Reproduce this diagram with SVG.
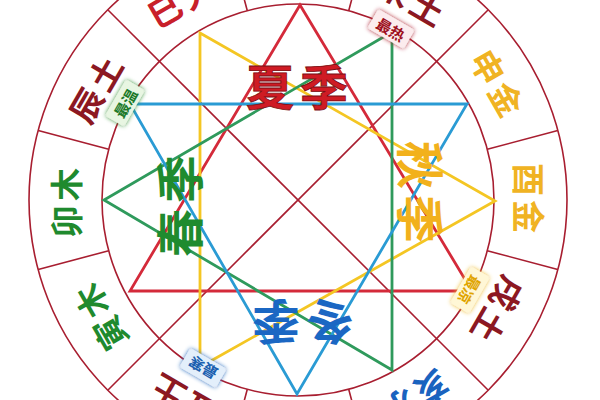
<svg xmlns="http://www.w3.org/2000/svg" width="600" height="400" viewBox="0 0 600 400">
<style>
.ring{fill:none;stroke:#a81e30;stroke-width:1.6}
.div{stroke:#a81e30;stroke-width:1.6}
.tri{fill:none;stroke-width:2.8;stroke-linejoin:miter}
.br{font-family:"Noto Sans CJK SC","Noto Sans",sans-serif;font-weight:700;font-size:33px;text-anchor:middle;dominant-baseline:central;letter-spacing:4px}
.se{font-family:"Noto Sans CJK SC","Noto Sans",sans-serif;font-weight:700;font-size:48px;text-anchor:middle;dominant-baseline:central;letter-spacing:6px}
.bd{font-family:"Noto Sans CJK SC","Noto Sans",sans-serif;font-weight:700;font-size:15px;text-anchor:middle;dominant-baseline:central}
.earth{fill:#8c1822}
.fire{fill:#c8202a}
.metal{fill:#f0b323}
.water{fill:#1a63bf}
.wood{fill:#1f8a2e}
</style>
<defs>
<filter id="glowG" x="-50%" y="-50%" width="200%" height="200%"><feDropShadow dx="0" dy="0" stdDeviation="2" flood-color="#3c9a3e"/></filter>
<filter id="glowR" x="-50%" y="-50%" width="200%" height="200%"><feDropShadow dx="0" dy="0" stdDeviation="2" flood-color="#b02030"/></filter>
<filter id="glowY" x="-50%" y="-50%" width="200%" height="200%"><feDropShadow dx="0" dy="0" stdDeviation="2" flood-color="#f0c030"/></filter>
<filter id="glowB" x="-50%" y="-50%" width="200%" height="200%"><feDropShadow dx="0" dy="0" stdDeviation="2" flood-color="#2a70c0"/></filter>
</defs>
<rect width="600" height="400" fill="#ffffff"/>
<g id="wheel">
<circle class="ring" cx="298" cy="200" r="269"/>
<circle class="ring" cx="298" cy="200" r="196"/>
<line class="div" x1="108" y1="10" x2="488" y2="390"/>
<line class="div" x1="488" y1="10" x2="108" y2="390"/>
<line class="div" x1="487.3" y1="149.3" x2="557.8" y2="130.4"/>
<line class="div" x1="348.7" y1="10.7" x2="367.6" y2="-59.8"/>
<line class="div" x1="247.3" y1="10.7" x2="228.4" y2="-59.8"/>
<line class="div" x1="108.7" y1="149.3" x2="38.2" y2="130.4"/>
<line class="div" x1="108.7" y1="250.7" x2="38.2" y2="269.6"/>
<line class="div" x1="247.3" y1="389.3" x2="228.4" y2="459.8"/>
<line class="div" x1="348.7" y1="389.3" x2="367.6" y2="459.8"/>
<line class="div" x1="487.3" y1="250.7" x2="557.8" y2="269.6"/>
</g>
<g id="connectors">
<polygon class="tri" stroke="#d42a3a" points="300,5 130,291 472,291"/>
<polygon class="tri" stroke="#f4c623" points="200,33 495,201 200,367"/>
<polygon class="tri" stroke="#2f9a5c" points="392,32 104,200 392,370"/>
<polygon class="tri" stroke="#2a9bd4" points="130,104 467,104 297,394"/>
</g>
<g id="branch-you"><text class="br metal" transform="translate(530,200) rotate(90)">酉金</text></g>
<g id="branch-shen"><text class="br metal" transform="translate(499,84) rotate(60)">申金</text></g>
<g id="branch-wei"><text class="br earth" transform="translate(414,-1) rotate(30)">未土</text></g>
<g id="branch-si"><text class="br fire" transform="translate(182,-1) rotate(-30)">巳火</text></g>
<g id="branch-chen"><text class="br earth" transform="translate(96,87) rotate(-60)">辰土</text></g>
<g id="branch-mao"><text class="br wood" transform="translate(65,201) rotate(-90)">卯木</text></g>
<g id="branch-yin"><text class="br wood" transform="translate(99,316) rotate(-120)">寅木</text></g>
<g id="branch-chou"><text class="br earth" transform="translate(182,401) rotate(-150)">丑土</text></g>
<g id="branch-hai"><text class="br water" transform="translate(414,399) rotate(150)">亥水</text></g>
<g id="branch-xu"><text class="br earth" transform="translate(498,312) rotate(120)">戌土</text></g>
<g id="season-summer"><text class="se" fill="#cf1b24" stroke="#7a0e14" stroke-width="0.8" transform="translate(300,84)">夏季</text></g>
<g id="season-autumn"><text class="se" fill="#f2b11c" transform="translate(423,195) rotate(90)">秋季</text></g>
<g id="season-winter"><text class="se" fill="#1b67c3" transform="translate(300,325) rotate(180)">冬季</text></g>
<g id="season-spring"><text class="se" fill="#1f8b2f" transform="translate(177,203) rotate(-90)">春季</text></g>
<g id="badge-warm" transform="translate(125,103) rotate(-60)">
<rect x="-21" y="-11" width="42" height="22" rx="3" fill="#e8f6e2" filter="url(#glowG)"/>
<text class="bd" fill="#1d7a2a">最温</text>
</g>
<g id="badge-hot" transform="translate(391,29) rotate(30)">
<rect x="-21" y="-11" width="42" height="22" rx="3" fill="#fcecee" filter="url(#glowR)"/>
<text class="bd" fill="#9e1020">最热</text>
</g>
<g id="badge-cool" transform="translate(470,290) rotate(120)">
<rect x="-21" y="-11" width="42" height="22" rx="3" fill="#fff7d6" filter="url(#glowY)"/>
<text class="bd" fill="#e0a400">最凉</text>
</g>
<g id="badge-cold" transform="translate(203,368) rotate(-150)">
<rect x="-21" y="-11" width="42" height="22" rx="3" fill="#e3effb" filter="url(#glowB)"/>
<text class="bd" fill="#1a5fb0">最寒</text>
</g>
</svg>
